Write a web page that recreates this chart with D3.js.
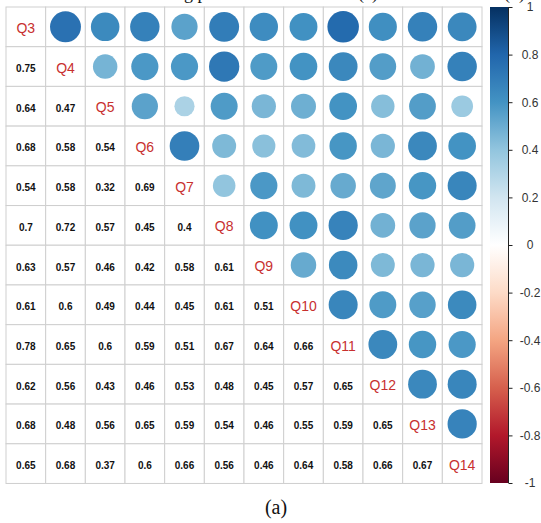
<!DOCTYPE html>
<html>
<head>
<meta charset="utf-8">
<script src="https://cdn.jsdelivr.net/npm/d3@7"></script>
<style>
  html, body { margin: 0; padding: 0; background: #fff; }
  svg { display: block; }
</style>
</head>
<body>
<svg id="chart" width="541" height="523"></svg>
<script>
// item names
const items = ["Q3", "Q4", "Q5", "Q6", "Q7", "Q8", "Q9", "Q10", "Q11", "Q12", "Q13", "Q14"];

// lower triangle of the correlation matrix, row by row
const lower = [
  [],
  [0.75],
  [0.64, 0.47],
  [0.68, 0.58, 0.54],
  [0.54, 0.58, 0.32, 0.69],
  [0.7, 0.72, 0.57, 0.45, 0.4],
  [0.63, 0.57, 0.46, 0.42, 0.58, 0.61],
  [0.61, 0.6, 0.49, 0.44, 0.45, 0.61, 0.51],
  [0.78, 0.65, 0.6, 0.59, 0.51, 0.67, 0.64, 0.66],
  [0.62, 0.56, 0.43, 0.46, 0.53, 0.48, 0.45, 0.57, 0.65],
  [0.68, 0.48, 0.56, 0.65, 0.59, 0.54, 0.46, 0.55, 0.59, 0.65],
  [0.65, 0.68, 0.37, 0.6, 0.66, 0.56, 0.46, 0.64, 0.58, 0.66, 0.67]
];

// colour legend ticks
const legendTicks = [1, 0.8, 0.6, 0.4, 0.2, 0, -0.2, -0.4, -0.6, -0.8, -1];

// RdBu palette used by corrplot
const palette = ["#67001F", "#B2182B", "#D6604D", "#F4A582", "#FDDBC7", "#FFFFFF",
                 "#D1E5F0", "#92C5DE", "#4393C3", "#2166AC", "#053061"];

const svg = d3.select("#chart");

const x = d3.scaleBand().domain(items).range([6, 482]);
const y = d3.scaleBand().domain(items).range([7, 483.5]);
const cell = x.bandwidth();

const color = d3.scaleLinear()
  .domain(d3.range(palette.length).map(i => -1 + 2 * i / (palette.length - 1)))
  .range(palette)
  .interpolate(d3.interpolateRgb);

// flatten into cells
const cells = [];
lower.forEach((row, i) => {
  row.forEach((v, j) => {
    cells.push({ r: items[i], c: items[j], v: v, kind: "num" });
    cells.push({ r: items[j], c: items[i], v: v, kind: "circle" });
  });
});

// grid
const grid = svg.append("g");
items.forEach(r => {
  items.forEach(c => {
    grid.append("rect")
      .attr("x", x(c)).attr("y", y(r))
      .attr("width", cell).attr("height", cell)
      .attr("fill", "#fff")
      .attr("stroke", "#cfcfcf")
      .attr("stroke-width", 1);
  });
});

// circles (upper triangle)
svg.append("g").selectAll("circle")
  .data(cells.filter(d => d.kind === "circle"))
  .join("circle")
  .attr("cx", d => x(d.c) + cell / 2)
  .attr("cy", d => y(d.r) + cell / 2)
  .attr("r", d => 0.9 * Math.sqrt(Math.abs(d.v)) / 2 * cell)
  .attr("fill", d => color(d.v));

// numbers (lower triangle)
svg.append("g").selectAll("text")
  .data(cells.filter(d => d.kind === "num"))
  .join("text")
  .attr("x", d => x(d.c) + cell / 2)
  .attr("y", d => y(d.r) + cell / 2 + 2)
  .attr("text-anchor", "middle")
  .attr("dominant-baseline", "central")
  .attr("font-family", "Liberation Sans, Arial, sans-serif")
  .attr("font-weight", "bold")
  .attr("font-size", 10)
  .attr("fill", "#111")
  .text(d => d.v);

// diagonal labels
svg.append("g").selectAll("text")
  .data(items)
  .join("text")
  .attr("x", d => x(d) + cell / 2)
  .attr("y", d => y(d) + cell / 2 + 1)
  .attr("text-anchor", "middle")
  .attr("dominant-baseline", "central")
  .attr("font-family", "Liberation Sans, Arial, sans-serif")
  .attr("font-size", 14)
  .attr("fill", "#c8302f")
  .text(d => d);

// colour legend
const ly = d3.scaleLinear().domain([-1, 1]).range([483, 7]);
const grad = svg.append("defs").append("linearGradient")
  .attr("id", "lg").attr("x1", 0).attr("y1", 1).attr("x2", 0).attr("y2", 0);
d3.range(0, 1.0001, 0.05).forEach(t => {
  grad.append("stop").attr("offset", t).attr("stop-color", color(-1 + 2 * t));
});
svg.append("rect")
  .attr("x", 490).attr("y", ly(1))
  .attr("width", 18).attr("height", ly(-1) - ly(1))
  .attr("fill", "url(#lg)");

const axis = d3.axisRight(ly)
  .tickValues(legendTicks)
  .tickSize(4)
  .tickPadding(8)
  .tickFormat(d => String(+d.toFixed(1)));
const ag = svg.append("g").attr("transform", "translate(508.5,0)").call(axis);
ag.select(".domain").attr("stroke", "#222").attr("d", `M0,${ly(1)}V${ly(-1)}`);
ag.selectAll(".tick line").attr("stroke", "#222");
ag.selectAll(".tick text")
  .attr("x", 21.5)
  .attr("text-anchor", "middle")
  .attr("font-family", "Liberation Sans, Arial, sans-serif")
  .attr("font-size", 12)
  .attr("fill", "#333");

// caption fragments cut off at the top edge and the sub-caption below
const serif = "Liberation Serif, Times New Roman, serif";
svg.append("text").attr("x", 184).attr("y", -1).attr("font-family", serif)
  .attr("font-size", 18).attr("fill", "#111").text("g p");
svg.append("text").attr("x", 358).attr("y", -1).attr("font-family", serif)
  .attr("font-size", 18).attr("fill", "#111").text("(a)");
svg.append("text").attr("x", 504).attr("y", -1).attr("font-family", serif)
  .attr("font-size", 18).attr("fill", "#111").text("(b)");
svg.append("text").attr("x", 276).attr("y", 514).attr("text-anchor", "middle")
  .attr("font-family", serif).attr("font-size", 20).attr("fill", "#111").text("(a)");
</script>
</body>
</html>
